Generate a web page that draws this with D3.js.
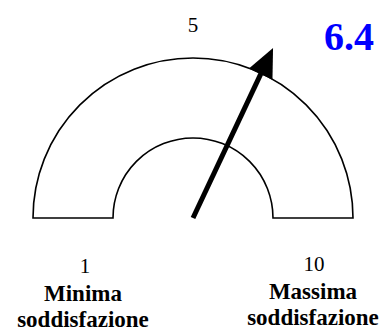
<!DOCTYPE html>
<html lang="en">
<head>
<meta charset="UTF-8">
<script src="https://d3js.org/d3.v7.min.js"></script>
<style>
  body { margin: 0; background: #fff; }
</style>
</head>
<body>
<div id="chart"></div>
<script>
// Data
const scaleStops = [1, 5, 10];
const endLabels = ["Minima soddisfazione", "Massima soddisfazione"];
const score = [6.4];

const width = 382, height = 329;
const cx = 193, cy = 218;
const outerR = 160, innerR = 80;
const serif = "Liberation Serif";

const svg = d3.select("#chart").append("svg")
  .attr("width", width)
  .attr("height", height);

// gauge angle: 1 on the left, 5 at the top, 10 on the right
const angle = d3.scaleLinear()
  .domain(scaleStops)
  .range([-Math.PI / 2, 0, Math.PI / 2]);

const g = svg.append("g").attr("transform", `translate(${cx},${cy})`);

// dial band
const arc = d3.arc()
  .innerRadius(innerR)
  .outerRadius(outerR)
  .startAngle(angle(scaleStops[0]))
  .endAngle(angle(scaleStops[2]));

g.append("path")
  .attr("d", arc())
  .attr("fill", "#fff")
  .attr("stroke", "#000")
  .attr("stroke-width", 1.6);

// needle
const a = angle(score[0]);
const pt = r => [Math.sin(a) * r, -Math.cos(a) * r];
const shaftEnd = pt(162);
g.append("line")
  .attr("x1", 0).attr("y1", 0)
  .attr("x2", shaftEnd[0]).attr("y2", shaftEnd[1])
  .attr("stroke", "#000")
  .attr("stroke-width", 5);

const tip = pt(188);
const baseC = pt(159);
const perp = [Math.cos(a), Math.sin(a)];
const hw = 13;
g.append("path")
  .attr("d", `M${tip[0]},${tip[1]}L${baseC[0] + perp[0] * hw},${baseC[1] + perp[1] * hw}L${baseC[0] - perp[0] * hw},${baseC[1] - perp[1] * hw}Z`)
  .attr("fill", "#000");

// scale labels
const tickPos = [{ x: 85, y: 273 }, { x: cx, y: 32 }, { x: 314, y: 271 }];
scaleStops.forEach((s, i) => {
  svg.append("text")
    .attr("x", tickPos[i].x).attr("y", tickPos[i].y)
    .attr("text-anchor", "middle")
    .attr("font-family", serif)
    .attr("font-size", 21)
    .text(s);
});

// end descriptions
const descPos = [{ x: 83, y: 301 }, { x: 313, y: 299 }];
endLabels.forEach((lbl, i) => {
  const words = lbl.split(" ");
  const t = svg.append("text")
    .attr("text-anchor", "middle")
    .attr("font-family", serif)
    .attr("font-size", 23)
    .attr("font-weight", "bold");
  words.forEach((w, j) => {
    t.append("tspan")
      .attr("x", descPos[i].x)
      .attr("y", descPos[i].y + j * 25.5)
      .text(w);
  });
});

// value
svg.append("text")
  .attr("x", 349).attr("y", 50)
  .attr("text-anchor", "middle")
  .attr("font-family", serif)
  .attr("font-size", 40)
  .attr("font-weight", "bold")
  .attr("fill", "#0000ff")
  .text(d3.format(".1f")(score[0]));
</script>
</body>
</html>
